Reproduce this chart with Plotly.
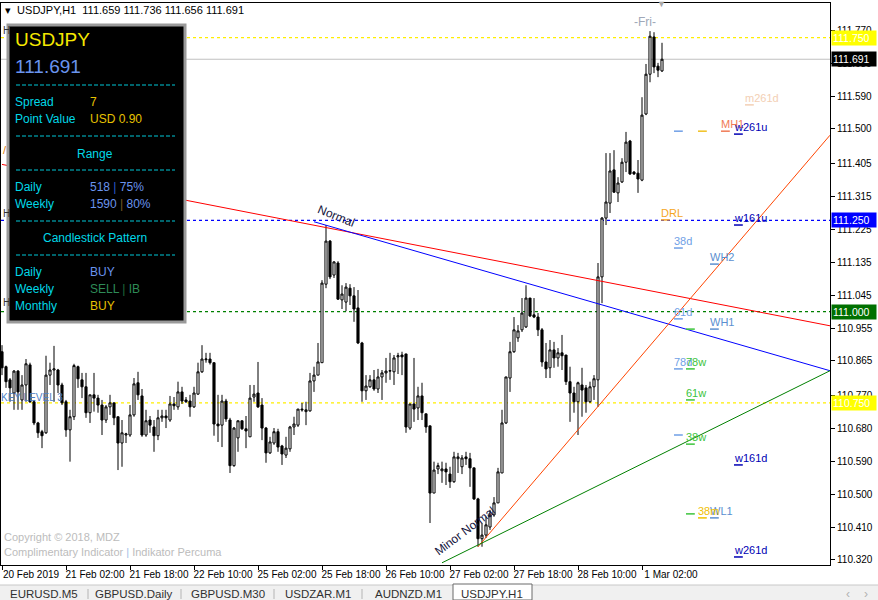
import plotly.graph_objects as go

# ---------------- DATA ----------------
opens = [110.890,110.849,110.813,110.777,110.837,110.758,110.799,110.854,110.753,110.695,
         110.671,110.668,110.826,110.840,110.840,110.799,110.753,110.676,110.712,110.849,
         110.813,110.794,110.723,110.772,110.763,110.744,110.703,110.739,110.750,110.712,
         110.640,110.662,110.662,110.717,110.805,110.769,110.662,110.703,110.684,110.660,
         110.709,110.714,110.703,110.747,110.739,110.780,110.758,110.755,110.739,110.774,
         110.835,110.868,110.870,110.860,110.692,110.689,110.755,110.703,110.578,110.654,
         110.701,110.679,110.657,110.766,110.777,110.744,110.681,110.613,110.640,110.671,
         110.632,110.607,110.624,110.684,110.689,110.733,110.726,110.728,110.810,110.826,
         110.860,111.075,111.193,111.100,111.133,111.032,111.026,111.064,111.043,111.010,
         110.914,110.783,110.794,110.813,110.788,110.821,110.832,110.837,110.835,110.876,
         110.881,110.884,110.681,110.747,110.736,110.769,110.720,110.687,110.503,110.569,
         110.564,110.569,110.555,110.534,110.597,110.575,110.602,110.597,110.572,110.487,
         110.378,110.388,110.410,110.443,110.476,110.558,110.695,110.818,110.890,110.928,
         110.950,110.958,111.037,110.991,110.985,110.950,110.862,110.846,110.895,110.873,
         110.887,110.881,110.808,110.777,110.753,110.799,110.791,110.753,110.794,110.813,
         111.095,111.256,111.297,111.388,111.325,111.355,111.409,111.467,111.382,111.379,
         111.360,111.541,111.650,111.752,111.672,111.659]
highs = [110.908,110.852,110.818,110.840,110.840,110.826,110.870,110.860,110.758,110.698,
         110.676,110.879,110.860,110.906,110.843,110.805,110.758,110.731,110.857,110.852,
         110.832,110.832,110.772,110.832,110.772,110.758,110.744,110.772,110.750,110.712,
         110.703,110.668,110.744,110.818,110.835,110.788,110.731,110.714,110.703,110.731,
         110.731,110.731,110.769,110.766,110.808,110.794,110.766,110.772,110.794,110.860,
         110.908,110.887,110.887,110.860,110.772,110.772,110.761,110.709,110.684,110.701,
         110.701,110.714,110.799,110.799,110.862,110.763,110.684,110.657,110.681,110.679,
         110.635,110.657,110.687,110.712,110.733,110.750,110.753,110.832,110.849,110.914,
         111.086,111.237,111.196,111.138,111.138,111.072,111.078,111.075,111.067,111.059,
         110.917,110.826,110.826,110.840,110.843,110.840,110.873,110.887,110.881,110.887,
         110.890,110.884,110.747,110.873,110.794,110.805,110.720,110.687,110.589,110.586,
         110.589,110.586,110.575,110.616,110.613,110.607,110.616,110.613,110.572,110.490,
         110.421,110.438,110.457,110.492,110.572,110.731,110.821,110.917,110.985,110.963,
         111.037,111.072,111.037,111.037,110.996,110.955,110.914,110.922,110.917,110.900,
         110.936,110.881,110.849,110.794,110.808,110.846,110.799,110.808,110.826,111.133,
         111.259,111.434,111.434,111.442,111.368,111.420,111.492,111.470,111.385,111.415,
         111.587,111.678,111.768,111.765,111.681,111.736]
lows = [110.826,110.791,110.753,110.731,110.731,110.731,110.753,110.750,110.689,110.654,
        110.626,110.665,110.799,110.753,110.777,110.744,110.657,110.589,110.703,110.791,
        110.763,110.709,110.695,110.726,110.723,110.662,110.695,110.717,110.689,110.566,
        110.575,110.640,110.657,110.712,110.758,110.657,110.657,110.668,110.616,110.648,
        110.698,110.681,110.698,110.731,110.731,110.747,110.750,110.712,110.736,110.772,
        110.832,110.860,110.855,110.660,110.643,110.629,110.698,110.558,110.575,110.616,
        110.676,110.626,110.657,110.753,110.736,110.648,110.586,110.610,110.635,110.616,
        110.580,110.599,110.616,110.662,110.684,110.726,110.689,110.726,110.780,110.826,
        110.860,111.064,111.089,111.092,111.032,111.007,111.001,111.018,110.972,110.911,
        110.753,110.758,110.791,110.783,110.777,110.758,110.805,110.813,110.799,110.829,
        110.826,110.668,110.676,110.698,110.703,110.703,110.668,110.421,110.503,110.555,
        110.531,110.525,110.517,110.531,110.558,110.555,110.580,110.520,110.484,110.356,
        110.356,110.380,110.402,110.438,110.476,110.558,110.692,110.780,110.887,110.917,
        110.944,110.955,110.985,110.982,110.933,110.849,110.818,110.818,110.846,110.849,
        110.840,110.799,110.698,110.723,110.662,110.712,110.723,110.750,110.758,110.739,
        111.023,111.237,111.270,111.325,111.300,111.352,111.382,111.374,111.374,111.325,
        111.357,111.538,111.628,111.653,111.642,111.656]
closes = [110.846,110.808,110.791,110.837,110.780,110.799,110.857,110.753,110.695,110.668,
          110.660,110.826,110.840,110.843,110.799,110.750,110.676,110.712,110.852,110.816,
          110.794,110.723,110.772,110.763,110.744,110.703,110.739,110.750,110.709,110.640,
          110.668,110.665,110.717,110.802,110.772,110.662,110.701,110.689,110.660,110.709,
          110.714,110.709,110.747,110.742,110.780,110.755,110.753,110.739,110.777,110.835,
          110.870,110.870,110.860,110.692,110.687,110.755,110.706,110.578,110.681,110.701,
          110.679,110.673,110.763,110.774,110.739,110.681,110.613,110.643,110.671,110.629,
          110.610,110.626,110.684,110.692,110.733,110.731,110.731,110.810,110.826,110.862,
          111.078,111.193,111.095,111.136,111.034,111.048,111.067,111.043,111.007,110.914,
          110.783,110.796,110.813,110.788,110.821,110.832,110.837,110.838,110.873,110.879,
          110.876,110.684,110.747,110.733,110.769,110.723,110.684,110.503,110.566,110.578,
          110.569,110.561,110.534,110.602,110.602,110.599,110.597,110.572,110.487,110.378,
          110.388,110.416,110.443,110.476,110.561,110.695,110.821,110.890,110.950,110.947,
          110.996,111.037,110.988,110.985,110.950,110.862,110.843,110.895,110.873,110.887,
          110.879,110.808,110.777,110.753,110.805,110.785,110.753,110.794,110.816,111.095,
          111.256,111.300,111.385,111.327,111.352,111.409,111.464,111.377,111.377,111.363,
          111.538,111.650,111.754,111.670,111.661,111.691]
bar_index = list(range(len(opens)))

time_tick_index = [0, 16, 32, 48, 64, 80, 96, 112, 128, 144, 160]
time_tick_labels = ["20 Feb 2019", "21 Feb 02:00", "21 Feb 18:00", "22 Feb 10:00",
                    "25 Feb 02:00", "25 Feb 18:00", "26 Feb 10:00", "27 Feb 02:00",
                    "27 Feb 18:00", "28 Feb 10:00", "1 Mar 02:00"]
price_ticks = [110.320, 110.410, 110.500, 110.590, 110.680, 110.770, 110.865, 110.955,
               111.045, 111.135, 111.225, 111.315, 111.405, 111.500, 111.590, 111.680, 111.770]

# horizontal levels
level_prices = [111.750, 111.250, 111.000, 110.750]
bid_price = 111.691

# trend lines (bar index, price)
red_idx, red_price = [0, 207], [111.403, 110.961]
blue_idx, blue_price = [78, 207], [111.246, 110.838]
orange_idx, orange_price = [119, 207], [110.356, 111.483]
green_idx, green_price = [110, 207], [110.312, 110.838]

# fib / pivot labels
fib_names = ["m261d", "MH1", "w261u", "DRL", "w161u", "38d", "WH2", "61d", "WH1",
             "78d", "78w", "61w", "38w", "w161d", "WL1", "38m", "w261d"]
fib_levels = [111.566, 111.494, 111.486, 111.251, 111.237, 111.174, 111.130, 110.980,
              110.952, 110.843, 110.843, 110.758, 110.637, 110.580, 110.435, 110.435, 110.328]
fib_bar = [185.75, 179.75, 183, 164.75, 183, 168, 177, 168, 177,
           168, 171, 171, 171, 183, 177, 174, 183]
extra_dash_bar = [168, 174, 171, 168, 171]
extra_dash_level = [111.494, 111.494, 110.952, 110.662, 110.446]

# ---------------- STYLE ----------------
C_W = "#0000b4"; C_D = "#6f9fe6"; C_H = "#5b8fd0"; C_G = "#3cc43c"
fib_colors = ["#f3cfb4", "#f07a55", C_W, "#f5a623", C_W, C_D, C_H, C_D, C_H,
              C_D, C_G, C_G, C_G, C_W, C_H, "#f0c000", C_W]
extra_dash_colors = [C_D, "#f0c020", C_G, C_D, C_G]
level_colors = ["#ffee00", "#0000ff", "#008000", "#ffee00"]

W, H = 878, 600
ML, MR, MT, MB = 1, 48, 3, 35
PW, PH = W - ML - MR, H - MT - MB
YR = [110.306, 111.845]
XR = [-0.25, 207.0]
FONT = "Liberation Sans, Arial, sans-serif"


def px(x):
    return (x - ML) / PW


def py(y):
    return 1 - (y - MT) / PH


fig = go.Figure()

fig.add_trace(go.Candlestick(
    x=bar_index, open=opens, high=highs, low=lows, close=closes,
    increasing=dict(line=dict(color="black", width=1), fillcolor="white"),
    decreasing=dict(line=dict(color="black", width=1), fillcolor="black"),
    whiskerwidth=0, hoverinfo="skip", showlegend=False))

for xi, yi, col in [(red_idx, red_price, "#ff0000"), (blue_idx, blue_price, "#0000ff"),
                    (orange_idx, orange_price, "#ff4500"), (green_idx, green_price, "#008000")]:
    fig.add_trace(go.Scatter(x=xi, y=yi, mode="lines", line=dict(color=col, width=1),
                             hoverinfo="skip", showlegend=False, cliponaxis=True))

shapes = []
annotations = []

# horizontal levels
for lp, col in zip(level_prices, level_colors):
    shapes.append(dict(type="line", xref="paper", yref="y", x0=0, x1=1, y0=lp, y1=lp,
                       line=dict(color=col, width=1.3, dash="3px,3px"), layer="below"))
shapes.append(dict(type="line", xref="paper", yref="y", x0=0, x1=1, y0=bid_price, y1=bid_price,
                   line=dict(color="#c0c0c0", width=1), layer="below"))

# fib underlines
for nm, lv, b, col in zip(fib_names, fib_levels, fib_bar, fib_colors):
    shapes.append(dict(type="line", xref="x", yref="y", x0=b, x1=b + 2.2, y0=lv, y1=lv,
                       line=dict(color=col, width=1.5)))
    annotations.append(dict(x=b, y=lv, xref="x", yref="y", text=nm, showarrow=False,
                            xanchor="left", yanchor="bottom", xshift=-2, yshift=-1,
                            font=dict(family=FONT, size=11, color=col)))
for b, lv, col in zip(extra_dash_bar, extra_dash_level, extra_dash_colors):
    shapes.append(dict(type="line", xref="x", yref="y", x0=b, x1=b + 2.2, y0=lv, y1=lv,
                       line=dict(color=col, width=1.5)))

# info panel
shapes.append(dict(type="rect", xref="paper", yref="paper", x0=px(8), x1=px(185),
                   y0=py(322), y1=py(25), fillcolor="black",
                   line=dict(color="#9a9a9a", width=3), layer="above"))
for yy in [85, 136, 170, 221, 255]:
    shapes.append(dict(type="line", xref="paper", yref="paper", x0=px(16), x1=px(175),
                       y0=py(yy), y1=py(yy), line=dict(color="#00c8d8", width=1, dash="4px,2px"),
                       layer="above"))

CY = "#00d8e8"; GOLD = "#e6c200"; CB = "#6a94ee"


def ptext(x, y, t, color, size=12, anchor="left"):
    annotations.append(dict(x=px(x), y=py(y), xref="paper", yref="paper", text=t,
                            showarrow=False, xanchor=anchor, yanchor="middle",
                            font=dict(family=FONT, size=size, color=color)))


ptext(13, 40, "USDJPY", "#f5e800", 19)
ptext(13, 66, "111.691", CB, 19)
ptext(13, 102, "Spread", CY); ptext(88, 102, "7", GOLD)
ptext(13, 119, "Point Value", CY); ptext(88, 119, "USD 0.90", GOLD)
ptext(95, 154, "Range", CY, 12, "center")
ptext(13, 187, "Daily", CY)
ptext(88, 187, "518 <span style='color:#2a5ad0'>|</span> 75%", CB)
ptext(13, 204, "Weekly", CY)
ptext(88, 204, "1590 <span style='color:#7a5a20'>|</span> 80%", CB)
ptext(95, 238, "Candlestick Pattern", CY, 12, "center")
ptext(13, 272, "Daily", CY); ptext(88, 272, "BUY", CB)
ptext(13, 289, "Weekly", CY)
ptext(88, 289, "SELL <span style='color:#1f6a3a'>|</span> IB", "#2e8b57")
ptext(13, 306, "Monthly", CY); ptext(88, 306, "BUY", GOLD)

# header and misc texts
ptext(3, 10, "▾  USDJPY,H1  111.659 111.736 111.656 111.691", "black", 11)
ptext(645, 22, "-Fri-", "#a0a8b8", 12, "center")
ptext(661, 4, "▼", "#a8a8a8", 9, "center")
ptext(1, 30, "H", "#333333", 10); ptext(1, 213, "H", "#333333", 10); ptext(1, 303, "H", "#333333", 10)
ptext(1, 150, "/", "#e07b00", 11)
ptext(2, 537, "Copyright © 2018, MDZ", "#bcbcbc", 11)
ptext(2, 552, "Complimentary Indicator <span style='color:#9ec0e8'>|</span> Indikator Percuma",
      "#bcbcbc", 11)
annotations.append(dict(x=7.5, y=110.766, xref="x", yref="y", text="KEY LEVEL 3", showarrow=False,
                        xanchor="center", yanchor="middle",
                        font=dict(family=FONT, size=10, color="#4f7fc4")))
annotations.append(dict(x=83.5, y=111.262, xref="x", yref="y", text="Normal", showarrow=False,
                        textangle=22, font=dict(family=FONT, size=12, color="#14143c")))
annotations.append(dict(x=115.75, y=110.399, xref="x", yref="y", text="Minor Normal",
                        showarrow=False, textangle=-37,
                        font=dict(family=FONT, size=12, color="#14143c")))

# price boxes on the right axis
for lp, bc, fc in [(111.750, "#ffff00", "white"), (bid_price, "black", "white"),
                   (111.250, "#0000ff", "white"), (111.000, "#007000", "white"),
                   (110.750, "#ffff00", "white")]:
    annotations.append(dict(x=1, y=lp, xref="paper", yref="y", text=f"{lp:.3f}",
                            showarrow=False, xanchor="left", yanchor="middle", xshift=1,
                            bgcolor=bc, borderpad=1, width=42, align="left",
                            font=dict(family=FONT, size=10.5, color=fc)))

# tab bar
shapes.append(dict(type="rect", xref="paper", yref="paper", x0=px(0), x1=px(W), y0=py(H),
                   y1=py(585), fillcolor="#f0f0f0", line=dict(width=0)))
shapes.append(dict(type="line", xref="paper", yref="paper", x0=px(0), x1=px(W), y0=py(585),
                   y1=py(585), line=dict(color="#c8c8c8", width=1)))
shapes.append(dict(type="rect", xref="paper", yref="paper", x0=px(453), x1=px(532), y0=py(H),
                   y1=py(584), fillcolor="white", line=dict(color="#6a6a6a", width=1)))
for sx in [88, 181, 274, 362]:
    shapes.append(dict(type="line", xref="paper", yref="paper", x0=px(sx), x1=px(sx),
                       y0=py(589), y1=py(599), line=dict(color="#b4b4b4", width=1)))
for cx, t in [(44, "EURUSD.M5"), (134, "GBPUSD.Daily"), (228, "GBPUSD.M30"),
              (318, "USDZAR.M1"), (408, "AUDNZD.M1"), (492, "USDJPY.H1")]:
    ptext(cx, 594, t, "#303030", 11.5, "center")
ptext(848, 594, "‹", "#b0b0b0", 12, "center")
ptext(866, 594, "›", "#b0b0b0", 12, "center")

fig.update_layout(
    width=W, height=H, margin=dict(l=ML, r=MR, t=MT, b=MB, autoexpand=False),
    paper_bgcolor="white", plot_bgcolor="white", showlegend=False, hovermode=False,
    boxgap=0.25, shapes=shapes, annotations=annotations,
    font=dict(family=FONT, size=10, color="black"),
)
fig.update_xaxes(range=XR, rangeslider=dict(visible=False), showgrid=False, zeroline=False,
                 tickmode="array", tickvals=time_tick_index, ticktext=time_tick_labels,
                 ticks="outside", ticklen=4, tickcolor="black", showline=True, linecolor="black",
                 linewidth=1, mirror=True, ticklabelshift=29, ticklabelstandoff=-4,
                 tickfont=dict(family=FONT, size=10, color="black"))
fig.update_yaxes(range=YR, side="right", showgrid=False, zeroline=False, tickmode="array",
                 tickvals=price_ticks, tickformat=".3f", ticks="outside", ticklen=4,
                 tickcolor="black", showline=True, linecolor="black", linewidth=1, mirror=True,
                 tickfont=dict(family=FONT, size=10, color="black"))

fig.write_html("out.html", config={"displayModeBar": False},
               post_script="document.body.style.margin='0';document.body.style.overflow='hidden';")
